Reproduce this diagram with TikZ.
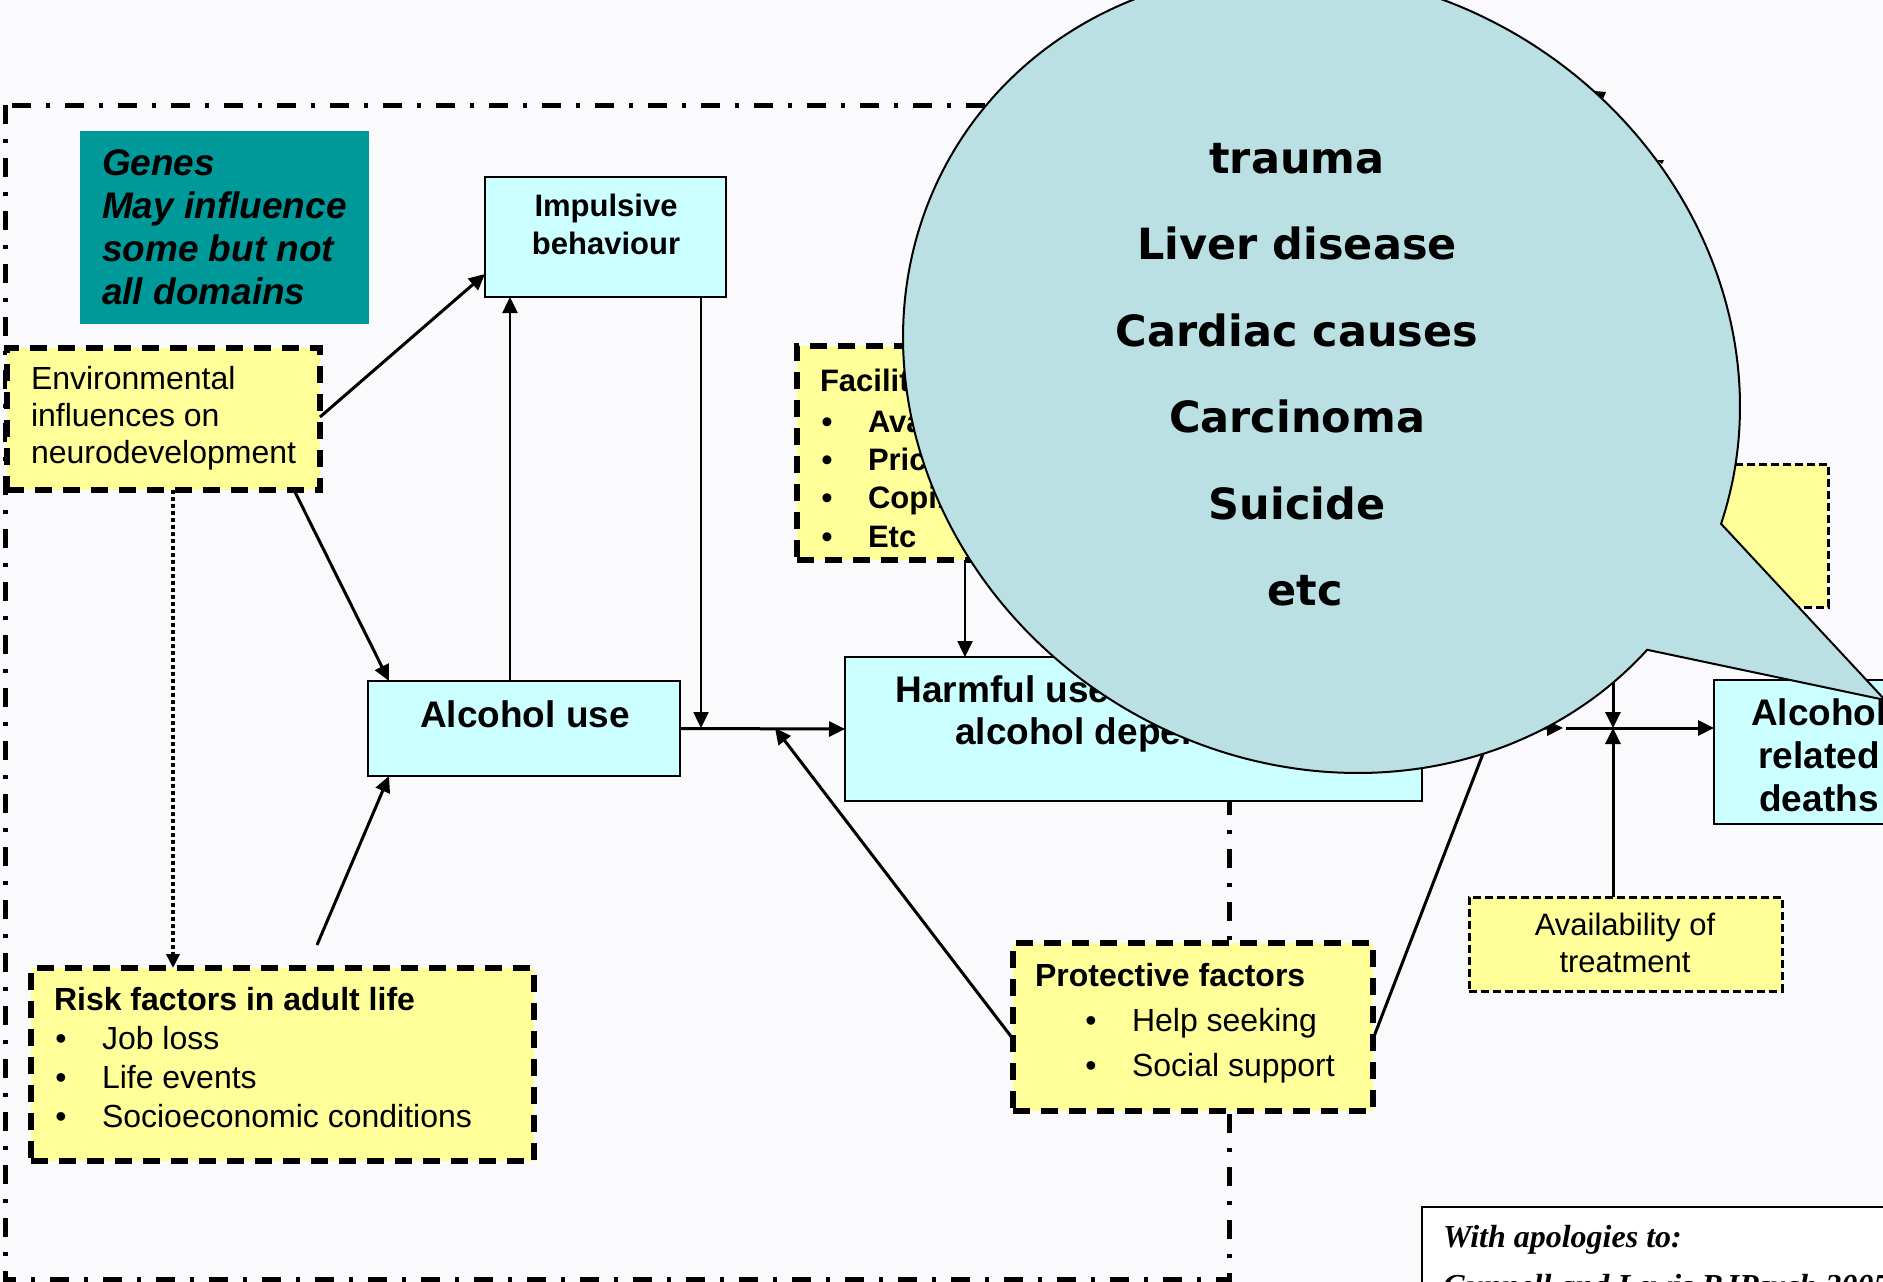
\documentclass[tikz,border=0pt]{standalone}
\usepackage{fontspec}
\setmainfont{Liberation Sans}
\newfontfamily\bubblefont{DejaVu Sans}
\newfontfamily\citefont{Liberation Serif}
\usetikzlibrary{arrows.meta,calc}

\definecolor{genesfill}{HTML}{009999}
\definecolor{cyanfill}{HTML}{CCFFFF}
\definecolor{yellowfill}{HTML}{FFFF99}
\definecolor{bubblefill}{HTML}{BBE0E3}
\definecolor{pagebg}{HTML}{FAFAFD}

\newcommand\fsz[1]{\fontsize{#1}{#1}\selectfont}

\tikzset{
  boxbase/.style={inner sep=0pt, outer sep=0pt, anchor=north west},
  cyanbox/.style={boxbase, draw=black, line width=2pt, fill=cyanfill},
  thickdash/.style={boxbase, draw=black, fill=yellowfill, line width=6pt,
    dash pattern=on 17pt off 11pt},
  thindash/.style={boxbase, draw=black, fill=yellowfill, line width=3pt,
    dash pattern=on 8pt off 4pt},
  frameline/.style={line width=5pt, dash pattern=on 19pt off 15pt on 4pt off 15pt},
  conn/.style={line width=3pt, -{Triangle[length=16pt,width=15pt]}},
  thinconn/.style={line width=2.5pt, -{Triangle[length=16pt,width=15pt]}},
  dotconn/.style={line width=4pt, dash pattern=on 4pt off 3pt,
    -{Triangle[length=14pt,width=13pt]}},
  txt/.style={inner sep=0pt, outer sep=0pt, anchor=base west},
  ctxt/.style={inner sep=0pt, outer sep=0pt, anchor=base},
  reg/.style={font=\fsz{32}},
  bold/.style={font=\fsz{32}\bfseries},
  bigbold/.style={font=\fsz{37}\bfseries},
  bubbletext/.style={ctxt, font=\bubblefont\fsz{43}\bfseries},
}

\begin{document}
\begin{tikzpicture}[x=1pt, y=-1pt]
\useasboundingbox (0,0) rectangle (1883,1282);
\clip (0,0) rectangle (1883,1282);
\fill[pagebg] (0,0) rectangle (1883,1282);

% dash-dot frame round the individual-level factors
\draw[frameline] (5,105) rectangle (1229,1279);

% ---------- boxes ----------
\node[boxbase, fill=genesfill, minimum width=289pt, minimum height=193pt] (genes) at (80,131) {};
\node[cyanbox, minimum width=241pt, minimum height=120pt] (imp) at (485,177) {};
\node[thickdash, minimum width=313pt, minimum height=142pt] (env) at (7,348) {};
\node[thickdash, minimum width=300pt, minimum height=214pt] (facil) at (797,346) {};
\node[cyanbox, minimum width=312pt, minimum height=95pt] (alc) at (368,681) {};
\node[cyanbox, minimum width=577pt, minimum height=144pt] (harm) at (845,657) {};
\node[cyanbox, minimum width=210pt, minimum height=144pt] (deaths) at (1714,680) {};
\node[thindash, minimum width=313pt, minimum height=94pt] (avail) at (1469,897) {};
\node[thindash, minimum width=228pt, minimum height=143pt] (side) at (1600,464) {};
\node[thickdash, minimum width=360pt, minimum height=168pt] (prot) at (1013,943) {};
\node[thickdash, minimum width=503pt, minimum height=193pt] (risk) at (31,968) {};
\node[boxbase, draw=black, line width=2pt, fill=white, minimum width=520pt, minimum height=120pt] (cite) at (1422,1207) {};

% ---------- texts ----------
\begin{scope}[every node/.append style={font=\fsz{37}\bfseries\itshape}]
  \node[txt] (g1) at (102,175) {Genes};
  \node[txt] (g2) at (102,218) {May influence};
  \node[txt] (g3) at (102,261) {some but not};
  \node[txt] (g4) at (102,304) {all domains};
\end{scope}

\node[ctxt, font=\fsz{31}\bfseries] (imp1) at (606,216) {Impulsive};
\node[ctxt, font=\fsz{31}\bfseries] (imp2) at (606,254) {behaviour};

\node[txt, reg] (env1) at (31,389) {Environmental};
\node[txt, reg] (env2) at (31,426) {influences on};
\node[txt, reg] (env3) at (31,463) {neurodevelopment};

\node[txt, font=\fsz{31}\bfseries] (fa0) at (820,391) {Facilitating factors};
\node[ctxt, font=\fsz{31}\bfseries] (fb1) at (827,432) {\textbullet};
\node[ctxt, font=\fsz{31}\bfseries] (fb2) at (827,470) {\textbullet};
\node[ctxt, font=\fsz{31}\bfseries] (fb3) at (827,508) {\textbullet};
\node[ctxt, font=\fsz{31}\bfseries] (fb4) at (827,547) {\textbullet};
\node[txt, font=\fsz{31}\bfseries] (fa1) at (868,432) {Availability};
\node[txt, font=\fsz{31}\bfseries] (fa2) at (868,470) {Price};
\node[txt, font=\fsz{31}\bfseries] (fa3) at (868,508) {Coping};
\node[txt, font=\fsz{31}\bfseries] (fa4) at (868,547) {Etc};

\node[ctxt, bigbold] (alc1) at (525,727) {Alcohol use};

\node[ctxt, bigbold] (harm1) at (1133,702) {Harmful use of alcohol and};
\node[ctxt, bigbold] (harm2) at (1133,744) {alcohol dependence};

\node[ctxt, bigbold] (d1) at (1819,725) {Alcohol};
\node[ctxt, bigbold] (d2) at (1819,768) {related};
\node[ctxt, bigbold] (d3) at (1819,811) {deaths};

\node[ctxt, font=\fsz{31}] (av1) at (1625,935) {Availability of};
\node[ctxt, font=\fsz{31}] (av2) at (1625,972) {treatment};

\node[txt, bold] (p0) at (1035,986) {Protective factors};
\node[ctxt, reg] (pb1) at (1091,1031) {\textbullet};
\node[ctxt, reg] (pb2) at (1091,1076) {\textbullet};
\node[txt, reg] (p1) at (1132,1031) {Help seeking};
\node[txt, reg] (p2) at (1132,1076) {Social support};

\node[txt, bold] (r0) at (54,1010) {Risk factors in adult life};
\node[ctxt, reg] (rb1) at (61,1049) {\textbullet};
\node[ctxt, reg] (rb2) at (61,1088) {\textbullet};
\node[ctxt, reg] (rb3) at (61,1127) {\textbullet};
\node[txt, reg] (r1) at (102,1049) {Job loss};
\node[txt, reg] (r2) at (102,1088) {Life events};
\node[txt, reg] (r3) at (102,1127) {Socioeconomic conditions};

\node[txt, font=\citefont\fsz{32}\bfseries\itshape] (c1) at (1443,1247) {With apologies to:};
\node[txt, font=\citefont\fsz{32}\bfseries\itshape] (c2) at (1443,1296) {Gunnell and Lewis BJPsych 2005};

% ---------- connectors ----------
\coordinate (j1) at (701,728);
\coordinate (j2) at (775,728);
\coordinate (j3) at (1613,728);
\coordinate (rstart) at (317,945);
\coordinate (pend) at (1538,611);
\coordinate (hend) at (1563,728);
\coordinate (dstart) at (1566,728);
\coordinate (vstart) at (1613,630);

\draw[thinconn] ([xshift=142pt]alc.north west) -- ([xshift=25pt]imp.south west);
\draw[thinconn] ([xshift=216pt]imp.south west) -- (j1);
\draw[conn] (alc.east) -- (harm.west);
\draw[conn] ([yshift=-69pt]env.north east) -- ([yshift=23pt]imp.south west);
\draw[conn] ([xshift=-26pt]env.south east) -- ([xshift=21pt]alc.north west);
\draw[dotconn] ([xshift=166pt]env.south west) -- ([xshift=142pt]risk.north west);
\draw[conn] (rstart) -- ([xshift=21pt]alc.south west);
\draw[conn] ([yshift=-96pt]prot.north west) -- (j2);
\draw[thinconn] ([xshift=168pt]facil.south west) -- ([xshift=120pt]harm.north west);
\draw[conn] ([yshift=-96pt]prot.north east) -- (pend);
\draw[conn] (harm.east) -- (hend);
\draw[conn] (dstart) -- (deaths.west |- dstart);
\draw[conn] (vstart) -- (j3);
\draw[conn] ([xshift=144pt]avail.north west) -- (j3);

% ---------- oval speech bubble of causes of death ----------
% slightly tilted ellipse, opened between 17.3 and 38.9 degrees for the wedge
\draw[line width=2pt, fill=bubblefill, line join=miter]
  plot[domain=38.9:377.3, samples=300, variable=\t]
    ({1321.5+418.5*cos(\t)}, {372+34.6*cos(\t)+399.5*sin(\t)})
  -- (1885,700) -- cycle;

\node[bubbletext] (b1) at (1297,173) {trauma};
\node[bubbletext] (b2) at (1297,259) {Liver disease};
\node[bubbletext] (b3) at (1297,346) {Cardiac causes};
\node[bubbletext] (b4) at (1297,432) {Carcinoma};
\node[bubbletext] (b5) at (1297,519) {Suicide};
\node[bubbletext] (b6) at (1305,605) {etc};

% small arrow tips showing at the bubble's edge
\fill (1594,91) -- (1606,92) -- (1603,99) -- cycle;
\fill (1657,160) -- (1664,160) -- (1662,164) -- cycle;
\end{tikzpicture}
\end{document}
